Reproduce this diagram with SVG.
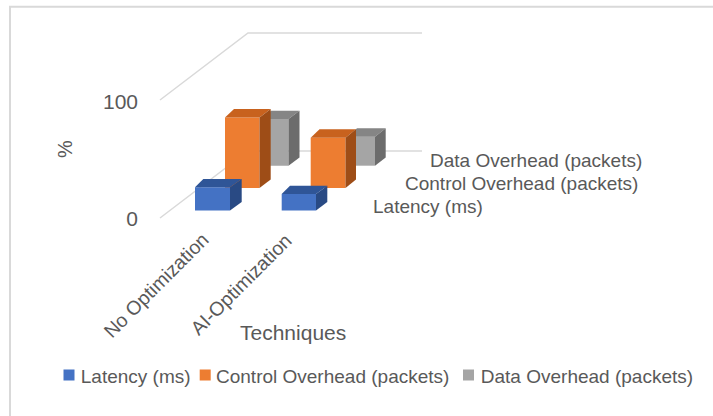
<svg xmlns="http://www.w3.org/2000/svg" width="713" height="416" viewBox="0 0 713 416">
<style>
text{font-family:"Liberation Sans",Arial,sans-serif;fill:#595959}
.grid{fill:none;stroke:#D9D9D9;stroke-width:1.5}
.tick{font-size:21px}
.lbl{font-size:19px}
.cat{font-size:19.5px}
.bf{fill:#4472C4}.bt{fill:#2F5597}.bs{fill:#294A84}
.of{fill:#ED7D31}.ot{fill:#C8621E}.os{fill:#9E4D17}
.gf{fill:#A5A5A5}.gt{fill:#858585}.gs{fill:#6C6C6C}
</style>
<rect x="0" y="0" width="713" height="416" fill="#FFFFFF"/>
<path d="M10 416 V6.7 H713" fill="none" stroke="#D9D9D9" stroke-width="2"/>
<g id="gridlines">
<polyline class="grid" points="160,218 248,151 422,151"/>
<polyline class="grid" points="160,100 248,33 422,33"/>
</g>
<g id="axis-labels">
<text class="tick" x="138" y="109" text-anchor="end">100</text>
<text class="tick" x="138" y="226" text-anchor="end">0</text>
<text class="lbl" style="font-size:20px" transform="translate(72,149) rotate(-90)" text-anchor="middle">%</text>
<text class="cat" transform="translate(210,241) rotate(-45)" text-anchor="end">No Optimization</text>
<text class="cat" transform="translate(293,242) rotate(-45)" text-anchor="end">AI-Optimization</text>
<text style="font-size:21px" x="240" y="340">Techniques</text>
<text class="lbl" x="430" y="167">Data Overhead (packets)</text>
<text class="lbl" x="405" y="190">Control Overhead (packets)</text>
<text class="lbl" x="373" y="213">Latency (ms)</text>
</g>
<g id="bar-data-noopt">
<polygon class="gf" points="262,119 288.5,119 288.5,165.7 262,165.7"/>
<polygon class="gt" points="262,119 288.5,119 299.5,110.7 271,110.7"/>
<polygon class="gs" points="288.5,119 299.5,110.7 299.5,157.5 288.5,165.7"/>
</g>
<g id="bar-data-aiopt">
<polygon class="gf" points="348,136.7 375,136.7 375,165.7 348,165.7"/>
<polygon class="gt" points="348,136.7 375,136.7 385.7,128.3 357,128.3"/>
<polygon class="gs" points="375,136.7 385.7,128.3 385.7,157.5 375,165.7"/>
</g>
<g id="bar-control-noopt">
<polygon class="of" points="225,117.5 259.5,117.5 259.5,188 225,188"/>
<polygon class="ot" points="225,117.5 259.5,117.5 270.7,109 234,109"/>
<polygon class="os" points="259.5,117.5 270.7,109 270.7,179.5 259.5,188"/>
</g>
<g id="bar-control-aiopt">
<polygon class="of" points="310.7,137.7 345.5,137.7 345.5,188 310.7,188"/>
<polygon class="ot" points="310.7,137.7 345.5,137.7 356,129.3 319.5,129.3"/>
<polygon class="os" points="345.5,137.7 356,129.3 356,179.5 345.5,188"/>
</g>
<g id="bar-latency-noopt">
<polygon class="bf" points="195,187.3 230,187.3 230,210.5 195,210.5"/>
<polygon class="bt" points="195,187.3 230,187.3 241.7,179 203.3,179"/>
<polygon class="bs" points="230,187.3 241.7,179 241.7,202 230,210.5"/>
</g>
<g id="bar-latency-aiopt">
<polygon class="bf" points="281.7,194 316,194 316,210.5 281.7,210.5"/>
<polygon class="bt" points="281.7,194 316,194 327.3,185.7 290,185.7"/>
<polygon class="bs" points="316,194 327.3,185.7 327.3,202 316,210.5"/>
</g>
<g id="legend">
<rect class="bf" x="63.5" y="369.5" width="11" height="11"/>
<text class="lbl" x="80.8" y="383">Latency (ms)</text>
<rect class="of" x="199.7" y="369.5" width="11" height="11"/>
<text class="lbl" x="216" y="383">Control Overhead (packets)</text>
<rect class="gf" x="463" y="369.5" width="11" height="11"/>
<text class="lbl" x="480.8" y="383">Data Overhead (packets)</text>
</g>
</svg>
